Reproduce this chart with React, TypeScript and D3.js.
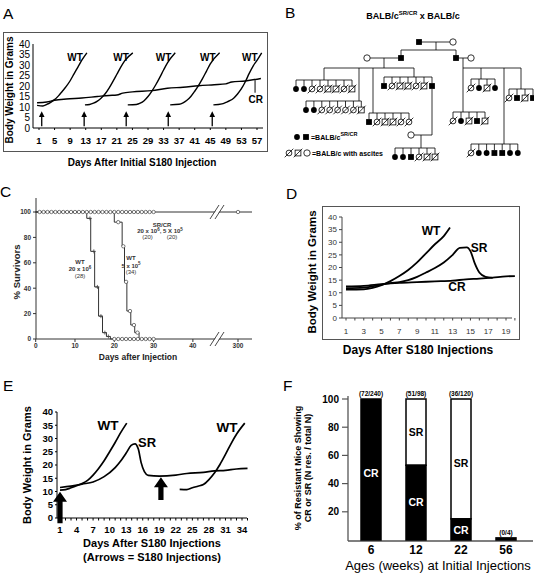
import React from 'react';
import * as d3 from 'd3';

const FONT = '"Liberation Sans", Arial, Helvetica, sans-serif';
type P = [number, number];

// ---------- Panel A data ----------
const aYTicks = [0, 5, 10, 15, 20, 25, 30, 35, 40];
const aXTicks = [1, 5, 9, 13, 17, 21, 25, 29, 33, 37, 41, 45, 49, 53, 57];
const aCR: P[] = [[0.5, 12], [3, 12.4], [5, 13.2], [8, 13.8], [12, 14.3], [16, 15], [19, 15.5], [21, 15.7], [22.5, 16.6], [25, 17.2], [30, 17.8], [34, 18.9], [38, 19.4], [42, 20.1], [46, 20.6], [49, 21], [50.5, 21.9], [54, 22.4], [58, 23.6]];
const aWT1: P[] = [[0.5, 10.8], [2, 10.5], [3, 11.2], [4, 12.2], [5, 13.5], [6, 15.3], [7, 17.5], [8, 19.8], [9, 22.5], [10, 25.8], [11, 29], [12, 32.3], [13.3, 35.8]];
const aWT2: P[] = [[12.8, 11], [14, 11.2], [15, 11.8], [16, 12.8], [17, 14.3], [18, 16.3], [19, 19], [20, 22.2], [21, 25.6], [22, 29], [23, 32], [25.1, 35.8]];
const aWT3: P[] = [[23.8, 11], [26, 11.2], [27, 11.8], [28, 13], [29, 15], [30, 17.6], [31, 20.6], [32, 24], [33, 27.6], [34, 31], [36, 35.8]];
const aWT4: P[] = [[34.7, 11], [37, 11.3], [38, 12], [39, 13.2], [40, 15], [41, 17.5], [42, 20.3], [43, 23.5], [44, 27], [45, 30.5], [47.4, 35.8]];
const aWT5: P[] = [[45.8, 11], [48, 11.5], [49, 12.2], [50, 13], [51, 14.2], [52, 16.2], [53, 18.7], [54, 22], [55, 26], [56, 29.5], [57, 32.2], [58.2, 35.8]];
const aWTs = [aWT1, aWT2, aWT3, aWT4, aWT5];
const aArrowDays = [1.7, 12.6, 23.4, 34.2, 45.5];

// ---------- Panel B data (pedigree) ----------
const bFamilies = [
  { sibY: 80, x0: 296, dx: 8, kids: 'FFccqqcq', dropX: 324 },
  { sibY: 101, x0: 306, dx: 7.9, kids: 'FFcccccq', dropX: 359 },
  { sibY: 113, x0: 369, dx: 8, kids: 'Scqqcc', dropX: 373 },
  { sibY: 77, x0: 384, dx: 8, kids: 'ScqqcqS', dropX: 414 },
  { sibY: 148, x0: 395, dx: 8, kids: 'FFScqq', dropX: 421 },
  { sibY: 79, x0: 471, dx: 8, kids: 'cFqF', dropX: 481 },
  { sibY: 89, x0: 509, dx: 8, kids: 'cSqS', dropX: 521 },
  { sibY: 112, x0: 453, dx: 8, kids: 'cFqSq', dropX: 463 },
  { sibY: 144, x0: 471, dx: 7.8, kids: 'cFFSSFF', dropX: 504 },
];

// ---------- Panel C data ----------
const cYTicks = [0, 20, 40, 60, 80, 100];
const cXTicks = [0, 10, 20, 30, 40, 300];
const cSRCRMarkers = [1, 2, 3, 4, 5, 6, 7, 8, 9, 10, 11, 12, 13, 14, 15, 16, 17, 18, 19, 20, 21, 22, 23, 24, 25, 26, 27, 28, 29, 30, 300];
const cWT20: P[] = [[0, 100], [13, 95], [14, 69], [15, 41], [16, 18], [17, 5], [18, 2], [19, 0], [20, 0]];
const cWT20Markers: P[] = [[13.8, 95], [14.8, 69], [15.7, 41], [16.6, 18], [17.6, 5], [18.5, 2]];
const cWT5: P[] = [[0, 100], [20, 92], [22, 73], [22.6, 45], [23.2, 22], [24.2, 11], [25.2, 5], [26.3, 0], [30, 0]];
const cWT5Markers: P[] = [[21, 92], [22.3, 73], [23, 45], [24, 22], [25, 11], [25.9, 5]];
const cZeroMarkers = [20, 21, 22, 23, 24, 25, 26, 27, 28, 29, 30];

// ---------- Panel D data ----------
const dYTicks = [0, 5, 10, 15, 20, 25, 30, 35, 40];
const dXTicks = [1, 3, 5, 7, 9, 11, 13, 15, 17, 19];
const dWT: P[] = [[1, 11.2], [3, 11.3], [4, 11.9], [5, 13], [6, 14.6], [7, 16.6], [8, 19], [9, 22], [10, 25.6], [11, 29.2], [12, 32.4], [12.7, 35.8]];
const dSR: P[] = [[1, 11.8], [3, 12], [4, 12.5], [5, 13.2], [6, 13.8], [7, 14.2], [8, 15], [9, 16.3], [10, 18], [11, 19.8], [12, 22], [13, 25], [13.8, 27.8], [14.6, 28], [15, 26.5], [15.5, 21.5], [16, 18], [16.7, 16.3], [17.5, 15.9]];
const dCR: P[] = [[1, 12.5], [3, 12.7], [5, 13.4], [7, 13.9], [9, 14.2], [11, 14.5], [13, 14.8], [14.5, 15.3], [16, 15.6], [17.5, 16], [19, 16.5], [20, 16.6]];

// ---------- Panel E data ----------
const eYTicks = [0, 5, 10, 15, 20, 25, 30, 35, 40];
const eXTicks = [1, 4, 7, 10, 13, 16, 19, 22, 25, 28, 31, 34];
const eWT1: P[] = [[1, 10.5], [2, 10.7], [3, 11.4], [4, 12.2], [5, 13], [6, 14.2], [7, 16.2], [8, 18.7], [9, 21.6], [10, 25], [11, 28.5], [12, 32.2], [13.1, 35.8]];
const eSR: P[] = [[1, 11.5], [3, 12], [5, 12.8], [7, 13.6], [9, 15.6], [11, 19], [12, 21.5], [13, 24.5], [13.9, 27.4], [14.6, 28], [15.2, 26], [15.7, 21], [16.3, 17.5], [17, 16.1], [19, 15.8], [22, 16.2], [24, 16.8], [27, 17.2], [29, 17.8], [31, 18], [33, 18.5], [35, 18.7]];
const eWT2: P[] = [[22.7, 10.8], [24, 10.7], [25, 11.4], [26, 12], [27, 12.6], [28, 14.5], [29, 17], [30, 20.2], [31, 24], [32, 28], [33, 31.6], [34.5, 35.8]];
const eArrows = [{ day: 1, tip: 9.9, base: -2 }, { day: 19.3, tip: 15.4, base: 6.8 }];

// ---------- Panel F data ----------
const fAges = ['6', '12', '22', '56'];
const fCR = [100, 53, 15, 1.5];
const fSR = [0, 47, 85, 0];
const fN = ['(72/240)', '(51/98)', '(36/120)', '(0/4)'];
const fYTicks = [20, 40, 60, 80, 100];

function Sym({ t, x, y }: { t: string; x: number; y: number }) {
  const r = 2.9;
  const slash = <line x1={x - 4.3} y1={y + 4.3} x2={x + 4.3} y2={y - 4.3} stroke="#000" strokeWidth={0.8} />;
  if (t === 'F') return <circle cx={x} cy={y} r={r} fill="#000" />;
  if (t === 'S') return <rect x={x - r} y={y - r} width={2 * r} height={2 * r} fill="#000" />;
  if (t === 'o') return <circle cx={x} cy={y} r={r + 0.3} fill="#fff" stroke="#000" strokeWidth={0.8} />;
  if (t === 'c') return <g><circle cx={x} cy={y} r={r} fill="#fff" stroke="#000" strokeWidth={0.8} />{slash}</g>;
  return <g><rect x={x - r} y={y - r} width={2 * r} height={2 * r} fill="#fff" stroke="#000" strokeWidth={0.8} />{slash}</g>;
}

export default function App() {
  // ---- A ----
  const ax = d3.scaleLinear().domain([1, 57]).range([39, 257]);
  const ay = d3.scaleLinear().domain([0, 40]).range([128, 44]);
  const aLine = d3.line<P>().x(d => ax(d[0])).y(d => ay(d[1])).curve(d3.curveMonotoneX);

  // ---- C ----
  const cx = d3.scaleLinear().domain([0, 44, 294, 306]).range([35.7, 208.6, 232, 244]);
  const cy = d3.scaleLinear().domain([0, 100]).range([339, 212]);
  const cLine = d3.line<P>().x(d => cx(d[0])).y(d => cy(d[1])).curve(d3.curveStepAfter);

  // ---- D ----
  const dx = d3.scaleLinear().domain([1, 19]).range([346, 506]);
  const dy = d3.scaleLinear().domain([0, 40]).range([318, 217]);
  const dLine = d3.line<P>().x(d => dx(d[0])).y(d => dy(d[1])).curve(d3.curveMonotoneX);

  // ---- E ----
  const ex = d3.scaleLinear().domain([1, 34]).range([60, 242]);
  const ey = d3.scaleLinear().domain([0, 40]).range([518, 412]);
  const eLine = d3.line<P>().x(d => ex(d[0])).y(d => ey(d[1])).curve(d3.curveMonotoneX);

  // ---- F ----
  const fx = d3.scalePoint<string>().domain(fAges).range([371, 506]);
  const fy = d3.scaleLinear().domain([0, 100]).range([540, 399]);
  const bw = 20;

  const dDays = d3.range(1, 21);
  const eDays = d3.range(1, 36);

  const breakMark = (x: number, y: number) => (
    <g>
      <polygon points={`${x - 6},${y + 6} ${x + 2},${y - 6} ${x + 6},${y - 6} ${x - 2},${y + 6}`} fill="#fff" />
      <line x1={x - 7} y1={y + 7} x2={x + 2} y2={y - 7} stroke="#333" strokeWidth={0.9} />
      <line x1={x - 2} y1={y + 7} x2={x + 7} y2={y - 7} stroke="#333" strokeWidth={0.9} />
    </g>
  );

  return (
    <svg width={534} height={576} style={{ position: 'absolute', left: 0, top: 0, background: '#fff' }} fontFamily={FONT}>
      <rect width={534} height={576} fill="#fff" />
      {/* ================= A ================= */}
      <text x={3} y={19} fontSize={15.5}>A</text>
      <rect x={3.5} y={32.5} width={264} height={119} fill="none" stroke="#555" strokeWidth={1} />
      <line x1={33} x2={33} y1={44} y2={128} stroke="#000" />
      <line x1={33} x2={263} y1={128} y2={128} stroke="#000" />
      {aYTicks.map(v => (
        <text key={v} x={30} y={ay(v) + 3.5} fontSize={10} textAnchor="end">{v}</text>
      ))}
      {aXTicks.map(v => (
        <g key={v}>
          <line x1={ax(v)} x2={ax(v)} y1={128} y2={130} stroke="#000" />
          <text x={ax(v)} y={144} fontSize={9.5} fontWeight="bold" textAnchor="middle">{v}</text>
        </g>
      ))}
      <text transform={`translate(13,90) rotate(-90)`} fontSize={10} fontWeight="bold" textAnchor="middle">Body Weight in Grams</text>
      <text x={142} y={166} fontSize={10} fontWeight="bold" textAnchor="middle">Days After Initial S180 Injection</text>
      <path d={aLine(aCR) || ''} fill="none" stroke="#000" strokeWidth={1.4} />
      {aWTs.map((s, i) => {
        const end = s[s.length - 1];
        return (
          <g key={i}>
            <path d={aLine(s) || ''} fill="none" stroke="#000" strokeWidth={1.4} />
            <text x={ax(end[0]) - 4} y={ay(34) + 4} fontSize={10} fontWeight="bold" textAnchor="end">WT</text>
          </g>
        );
      })}
      {aArrowDays.map((d, i) => (
        <g key={i}>
          <line x1={ax(d)} x2={ax(d)} y1={ay(0.8)} y2={ay(6)} stroke="#000" strokeWidth={1.3} />
          <polygon points={`${ax(d)},${ay(8)} ${ax(d) - 2.8},${ay(5.2)} ${ax(d) + 2.8},${ay(5.2)}`} fill="#000" />
        </g>
      ))}
      <line x1={ax(56.5)} x2={ax(56.5)} y1={ay(22.8)} y2={ay(16.8)} stroke="#000" strokeWidth={1} />
      <text x={ax(56.7)} y={ay(11.7)} fontSize={10} fontWeight="bold" textAnchor="middle">CR</text>

      {/* ================= B ================= */}
      <text x={285} y={18} fontSize={15.5}>B</text>
      <text x={413} y={19} fontSize={9} fontWeight="bold" textAnchor="middle">
        BALB/c<tspan fontSize={6} dy={-4}>SR/CR</tspan><tspan dy={4}> x BALB/c</tspan>
      </text>
      <g stroke="#000" strokeWidth={0.8} fill="none">
        {/* top pair */}
        <line x1={419} x2={453} y1={42} y2={42} />
        <line x1={436} x2={436} y1={42} y2={50} />
        <line x1={401} x2={456} y1={50} y2={50} />
        <line x1={401} x2={401} y1={50} y2={58} />
        <line x1={456} x2={456} y1={50} y2={58} />
        {/* left couple */}
        <line x1={367} x2={401} y1={58} y2={58} />
        <line x1={384} x2={384} y1={58} y2={68} />
        <line x1={324} x2={414} y1={68} y2={68} />
        {/* right couple */}
        <line x1={456} x2={471} y1={58} y2={58} />
        <line x1={463} x2={463} y1={58} y2={68} />
        <line x1={463} x2={521} y1={68} y2={68} />
        {/* sub-couple lower */}
        <line x1={432} x2={432} y1={89} y2={135} />
        <line x1={411} x2={432} y1={135} y2={135} />
        <line x1={421} x2={421} y1={135} y2={148} />
        {bFamilies.map((f, i) => {
          const n = f.kids.length;
          const x1 = f.x0 + (n - 1) * f.dx;
          const from = i === 4 ? 148 : 68;
          return (
            <g key={i}>
              <line x1={f.dropX} x2={f.dropX} y1={from} y2={f.sibY} />
              <line x1={Math.min(f.x0, f.dropX)} x2={Math.max(x1, f.dropX)} y1={f.sibY} y2={f.sibY} />
              {f.kids.split('').map((_, k) => (
                <line key={k} x1={f.x0 + k * f.dx} x2={f.x0 + k * f.dx} y1={f.sibY} y2={f.sibY + 6} />
              ))}
            </g>
          );
        })}
      </g>
      <Sym t="S" x={419} y={42} />
      <Sym t="o" x={453} y={42} />
      <Sym t="S" x={401} y={58} />
      <Sym t="S" x={456} y={58} />
      <Sym t="o" x={367} y={58} />
      <Sym t="o" x={471} y={58} />
      <Sym t="o" x={411} y={135} />
      {bFamilies.map((f, i) => (
        <g key={i}>
          {f.kids.split('').map((t, k) => (
            <Sym key={k} t={t} x={f.x0 + k * f.dx} y={f.sibY + 9} />
          ))}
        </g>
      ))}
      <Sym t="F" x={297} y={137} />
      <Sym t="S" x={306} y={137} />
      <text x={311} y={140} fontSize={7} fontWeight="bold">=BALB/c<tspan fontSize={5.5} dy={-4}>SR/CR</tspan></text>
      <Sym t="c" x={289} y={153} />
      <Sym t="q" x={298} y={153} />
      <Sym t="o" x={307} y={153} />
      <text x={312} y={156} fontSize={7} fontWeight="bold">=BALB/c with ascites</text>

      {/* ================= C ================= */}
      <text x={0} y={197} fontSize={15.5}>C</text>
      <line x1={36} x2={36} y1={198} y2={339} stroke="#333" strokeWidth={1} />
      <line x1={36} x2={252} y1={339} y2={339} stroke="#333" strokeWidth={1} />
      {cYTicks.map(v => (
        <g key={v}>
          <line x1={33} x2={36} y1={cy(v)} y2={cy(v)} stroke="#333" />
          <text x={31} y={cy(v) + 2.3} fontSize={6.5} fontWeight="bold" textAnchor="end" fill="#333">{v}</text>
        </g>
      ))}
      {cXTicks.map(v => (
        <g key={v}>
          <line x1={cx(v)} x2={cx(v)} y1={339} y2={342} stroke="#333" />
          <text x={cx(v)} y={348} fontSize={6.5} fontWeight="bold" textAnchor="middle" fill="#333">{v}</text>
        </g>
      ))}
      <text transform="translate(20,272) rotate(-90)" fontSize={9.5} fontWeight="bold" textAnchor="middle" fill="#222">% Survivors</text>
      <text x={138} y={360} fontSize={8.5} fontWeight="bold" textAnchor="middle" fill="#222">Days after Injection</text>
      <line x1={cx(0)} x2={252} y1={cy(100)} y2={cy(100)} stroke="#333" strokeWidth={1} />
      <path d={cLine(cWT20) || ''} fill="none" stroke="#333" strokeWidth={1} />
      <path d={cLine(cWT5) || ''} fill="none" stroke="#333" strokeWidth={1} />
      {breakMark(217, cy(100))}
      {breakMark(217, 339)}
      {cSRCRMarkers.map(d => (
        <circle key={d} cx={cx(d)} cy={cy(100)} r={1.7} fill="#fff" stroke="#444" strokeWidth={0.7} />
      ))}
      {cZeroMarkers.map(d => (
        <circle key={d} cx={cx(d)} cy={cy(0)} r={1.7} fill="#fff" stroke="#444" strokeWidth={0.7} />
      ))}
      {cWT5Markers.map((p, i) => (
        <circle key={i} cx={cx(p[0])} cy={cy(p[1])} r={1.7} fill="#fff" stroke="#444" strokeWidth={0.7} />
      ))}
      {cWT20Markers.map((p, i) => (
        <g key={i} stroke="#444" strokeWidth={0.8}>
          <line x1={cx(p[0]) - 2} x2={cx(p[0]) + 2} y1={cy(p[1])} y2={cy(p[1])} />
          <line x1={cx(p[0])} x2={cx(p[0])} y1={cy(p[1]) - 2} y2={cy(p[1]) + 2} />
        </g>
      ))}
      <g fontSize={6} fontWeight="bold" textAnchor="middle" fill="#333">
        <text x={80} y={263.5}>WT</text>
        <text x={80} y={271}>20 x 10<tspan fontSize={4.5} dy={-2.5}>6</tspan></text>
        <text x={80} y={277.5} fontWeight="normal">(28)</text>
        <text x={131} y={260}>WT</text>
        <text x={131} y={267.5}>5 x 10<tspan fontSize={4.5} dy={-2.5}>5</tspan></text>
        <text x={131} y={274} fontWeight="normal">(34)</text>
        <text x={162} y={226.5}>SR/CR</text>
        <text x={160} y={233}>20 x 10<tspan fontSize={4.5} dy={-2.5}>6</tspan><tspan dy={2.5}>, 5 X 10</tspan><tspan fontSize={4.5} dy={-2.5}>5</tspan></text>
        <text x={147.5} y={238.5} fontWeight="normal">(20)</text>
        <text x={172} y={238.5} fontWeight="normal">(20)</text>
      </g>

      {/* ================= D ================= */}
      <text x={286} y={199} fontSize={15.5}>D</text>
      <rect x={322.5} y={206.5} width={197} height={133} fill="none" stroke="#555" strokeWidth={1} />
      <line x1={342} x2={342} y1={217} y2={318} stroke="#444" />
      <line x1={342} x2={512} y1={318} y2={318} stroke="#444" />
      {dYTicks.map(v => (
        <g key={v}>
          <line x1={339} x2={342} y1={dy(v)} y2={dy(v)} stroke="#444" />
          <text x={337} y={dy(v) + 2.8} fontSize={8} textAnchor="end" fill="#333">{v}</text>
        </g>
      ))}
      {dDays.map(v => (
        <line key={v} x1={dx(v)} x2={dx(v)} y1={318} y2={320.5} stroke="#444" />
      ))}
      {dXTicks.map(v => (
        <text key={v} x={dx(v)} y={334} fontSize={8} textAnchor="middle" fill="#333">{v}</text>
      ))}
      <text transform="translate(316,272) rotate(-90)" fontSize={11.5} fontWeight="bold" textAnchor="middle">Body Weight in Grams</text>
      <text x={418} y={354} fontSize={12} fontWeight="bold" textAnchor="middle">Days After S180 Injections</text>
      <path d={dLine(dCR) || ''} fill="none" stroke="#000" strokeWidth={1.8} />
      <path d={dLine(dSR) || ''} fill="none" stroke="#000" strokeWidth={1.8} />
      <path d={dLine(dWT) || ''} fill="none" stroke="#000" strokeWidth={1.8} />
      <text x={431} y={234.5} fontSize={12} fontWeight="bold" textAnchor="middle">WT</text>
      <text x={479} y={252} fontSize={12} fontWeight="bold" textAnchor="middle">SR</text>
      <text x={457} y={291} fontSize={12} fontWeight="bold" textAnchor="middle">CR</text>

      {/* ================= E ================= */}
      <text x={3} y={391} fontSize={15.5}>E</text>
      <line x1={57} x2={57} y1={412} y2={518} stroke="#000" />
      <line x1={57} x2={247} y1={518} y2={518} stroke="#000" />
      {eYTicks.map(v => (
        <g key={v}>
          <line x1={55} x2={57} y1={ey(v)} y2={ey(v)} stroke="#000" />
          <text x={53} y={ey(v) + 3.3} fontSize={9.5} fontWeight="bold" textAnchor="end">{v}</text>
        </g>
      ))}
      {eDays.map(v => (
        <line key={v} x1={ex(v)} x2={ex(v)} y1={518} y2={520.5} stroke="#000" />
      ))}
      {eXTicks.map(v => (
        <text key={v} x={ex(v)} y={533} fontSize={9.5} fontWeight="bold" textAnchor="middle">{v}</text>
      ))}
      <text transform="translate(31,465) rotate(-90)" fontSize={11} fontWeight="bold" textAnchor="middle">Body Weight in Grams</text>
      <text x={152} y={547} fontSize={11} fontWeight="bold" textAnchor="middle">Days After S180 Injections</text>
      <text x={152} y={561} fontSize={11} fontWeight="bold" textAnchor="middle">(Arrows = S180 Injections)</text>
      <path d={eLine(eSR) || ''} fill="none" stroke="#000" strokeWidth={1.7} />
      <path d={eLine(eWT1) || ''} fill="none" stroke="#000" strokeWidth={1.7} />
      <path d={eLine(eWT2) || ''} fill="none" stroke="#000" strokeWidth={1.7} />
      {eArrows.map((a, i) => {
        const x = ex(a.day), t = ey(a.tip), b = ey(a.base), hl = 10;
        return (
          <polygon key={i} fill="#000" points={`${x},${t} ${x + 7},${t + hl} ${x + 2.6},${t + hl} ${x + 2.6},${b} ${x - 2.6},${b} ${x - 2.6},${t + hl} ${x - 7},${t + hl}`} />
        );
      })}
      <text x={108} y={430} fontSize={13.5} fontWeight="bold" textAnchor="middle">WT</text>
      <text x={147} y={447} fontSize={13} fontWeight="bold" textAnchor="middle">SR</text>
      <text x={227} y={432} fontSize={13.5} fontWeight="bold" textAnchor="middle">WT</text>

      {/* ================= F ================= */}
      <text x={283} y={391} fontSize={15.5}>F</text>
      <line x1={348} x2={348} y1={396} y2={541} stroke="#555" strokeWidth={1.3} />
      <line x1={348} x2={533} y1={541} y2={541} stroke="#555" strokeWidth={1.3} />
      {fYTicks.map(v => (
        <g key={v}>
          <line x1={342} x2={348} y1={fy(v)} y2={fy(v)} stroke="#555" strokeWidth={1.2} />
          <text x={339} y={fy(v) + 3.5} fontSize={10} fontWeight="bold" textAnchor="end">{v}</text>
        </g>
      ))}
      {fAges.map((a, i) => {
        const x = (fx(a) || 0) - bw / 2;
        return (
          <g key={a}>
            {fSR[i] > 0 && (
              <rect x={x} y={fy(fCR[i] + fSR[i])} width={bw} height={fy(fCR[i]) - fy(fCR[i] + fSR[i])} fill="#fff" stroke="#000" strokeWidth={1.5} />
            )}
            <rect x={x} y={fy(fCR[i])} width={bw} height={fy(0) - fy(fCR[i])} fill="#000" stroke="#000" strokeWidth={1.5} />
            <text x={fx(a)} y={fy(fCR[i] + fSR[i]) - 3} fontSize={6.5} fontWeight="bold" textAnchor="middle">{fN[i]}</text>
            <text x={fx(a)} y={554} fontSize={12} fontWeight="bold" textAnchor="middle">{a}</text>
          </g>
        );
      })}
      <g fontSize={10.5} fontWeight="bold" textAnchor="middle">
        <text x={fx('6')} y={477} fill="#fff">CR</text>
        <text x={fx('12')} y={436} fill="#000">SR</text>
        <text x={fx('12')} y={506} fill="#fff">CR</text>
        <text x={fx('22')} y={467} fill="#000">SR</text>
        <text x={fx('22')} y={534} fill="#fff">CR</text>
      </g>
      <text transform="translate(301,468) rotate(-90)" fontSize={9} fontWeight="bold" textAnchor="middle">% of Resistant Mice Showing</text>
      <text transform="translate(311,468) rotate(-90)" fontSize={9} fontWeight="bold" textAnchor="middle">CR or SR (N res. / total N)</text>
      <text x={438} y={570} fontSize={13} textAnchor="middle">Ages (weeks) at Initial Injections</text>
    </svg>
  );
}
